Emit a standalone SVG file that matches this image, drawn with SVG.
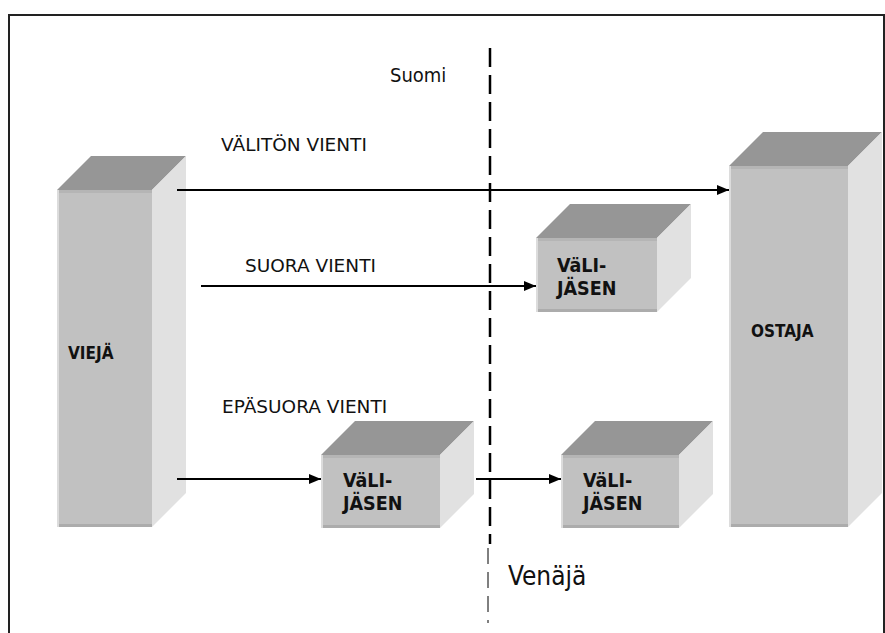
<svg xmlns="http://www.w3.org/2000/svg" width="885" height="633" viewBox="0 0 885 633">
  <defs>
    <style>
      .top { fill: #969696; }
      .front { fill: #c1c1c1; }
      .side { fill: #e1e1e1; }
      .hl { fill: #dcdcdc; }
      .shadeTop { fill: #b5b5b5; }
      .shadeBot { fill: #acacac; }
      .lbl { font-family: "DejaVu Sans", Verdana, sans-serif; font-size: 18.5px; fill: #111; }
      .box { font-family: "DejaVu Sans", Verdana, sans-serif; font-weight: bold; font-stretch: condensed; fill: #111; }
      .place { font-family: "DejaVu Sans", Verdana, sans-serif; font-stretch: condensed; fill: #111; }
      .conn { stroke: #000; stroke-width: 1.8; fill: none; }
    </style>
    <marker id="arrow" viewBox="0 0 12 10" refX="12" refY="5" markerWidth="12" markerHeight="10" markerUnits="userSpaceOnUse" orient="auto">
      <path d="M0,0 L12,5 L0,10 Z" fill="#000"/>
    </marker>
  </defs>

  <rect width="885" height="633" fill="#fff"/>

  <!-- outer frame (open at the bottom) -->
  <path d="M9,633 V15 H884 V633" fill="none" stroke="#222" stroke-width="2"/>

  <!-- border between the two countries -->
  <g id="border">
    <line x1="490" y1="48" x2="490" y2="544" stroke="#000" stroke-width="2.5" stroke-dasharray="19 8"/>
    <line x1="488" y1="548" x2="488" y2="623" stroke="#000" stroke-width="1" stroke-dasharray="16 8"/>
  </g>

  <text class="place" x="390" y="82" font-size="20">Suomi</text>
  <text class="place" x="508" y="585" font-size="26">Venäjä</text>

  <!-- VIEJÄ -->
  <g id="viejä">
    <polygon class="top" points="57,190 91,156 186,156 152,190"/>
    <polygon class="side" points="152,190 186,156 186,493 152,527"/>
    <rect class="front" x="57" y="190" width="95" height="337"/>
    <rect class="shadeTop" x="57" y="190" width="95" height="3"/>
    <rect class="shadeBot" x="57" y="524" width="95" height="3"/>
    <rect class="hl" x="57" y="190" width="2" height="337"/>
    <text class="box" x="68" y="359" font-size="17">VIEJÄ</text>
  </g>

  <!-- OSTAJA -->
  <g id="ostaja">
    <polygon class="top" points="729,166 763,132 882,132 848,166"/>
    <polygon class="side" points="848,166 882,132 882,493 848,527"/>
    <rect class="front" x="729" y="166" width="119" height="361"/>
    <rect class="shadeTop" x="729" y="166" width="119" height="3"/>
    <rect class="shadeBot" x="729" y="524" width="119" height="3"/>
    <rect class="hl" x="729" y="166" width="2" height="361"/>
    <text class="box" x="751" y="337" font-size="17">OSTAJA</text>
  </g>

  <!-- VäLI-JÄSEN, Russian side (direct export) -->
  <g id="välijäsen-suora">
    <polygon class="top" points="536,238 570,204 691,204 657,238"/>
    <polygon class="side" points="657,238 691,204 691,278 657,312"/>
    <rect class="front" x="536" y="238" width="121" height="74"/>
    <rect class="shadeTop" x="536" y="238" width="121" height="3"/>
    <rect class="shadeBot" x="536" y="309" width="121" height="3"/>
    <rect class="hl" x="536" y="238" width="2" height="74"/>
    <text class="box" x="557" y="272" font-size="19.5">VäLI-</text>
    <text class="box" x="557" y="295" font-size="19.5">JÄSEN</text>
  </g>

  <!-- VäLI-JÄSEN, Finnish side (indirect export) -->
  <g id="välijäsen-fi">
    <polygon class="top" points="321,455 355,421 474,421 440,455"/>
    <polygon class="side" points="440,455 474,421 474,494 440,528"/>
    <rect class="front" x="321" y="455" width="119" height="73"/>
    <rect class="shadeTop" x="321" y="455" width="119" height="3"/>
    <rect class="shadeBot" x="321" y="525" width="119" height="3"/>
    <rect class="hl" x="321" y="455" width="2" height="73"/>
    <text class="box" x="343" y="487" font-size="19.5">VäLI-</text>
    <text class="box" x="343" y="510" font-size="19.5">JÄSEN</text>
  </g>

  <!-- VäLI-JÄSEN, Russian side (indirect export) -->
  <g id="välijäsen-ru">
    <polygon class="top" points="561,455 595,421 713,421 679,455"/>
    <polygon class="side" points="679,455 713,421 713,494 679,528"/>
    <rect class="front" x="561" y="455" width="118" height="73"/>
    <rect class="shadeTop" x="561" y="455" width="118" height="3"/>
    <rect class="shadeBot" x="561" y="525" width="118" height="3"/>
    <rect class="hl" x="561" y="455" width="2" height="73"/>
    <text class="box" x="583" y="487" font-size="19.5">VäLI-</text>
    <text class="box" x="583" y="510" font-size="19.5">JÄSEN</text>
  </g>

  <!-- export routes -->
  <g id="connectors">
    <line class="conn" x1="177" y1="190" x2="729" y2="190" marker-end="url(#arrow)"/>
    <line class="conn" x1="201" y1="286" x2="536" y2="286" marker-end="url(#arrow)"/>
    <line class="conn" x1="177" y1="479" x2="321" y2="479" marker-end="url(#arrow)"/>
    <line class="conn" x1="476" y1="479" x2="561" y2="479" marker-end="url(#arrow)"/>
  </g>

  <text class="lbl" x="221" y="151">VÄLITÖN VIENTI</text>
  <text class="lbl" x="245" y="272">SUORA VIENTI</text>
  <text class="lbl" x="222" y="413">EPÄSUORA VIENTI</text>
</svg>
